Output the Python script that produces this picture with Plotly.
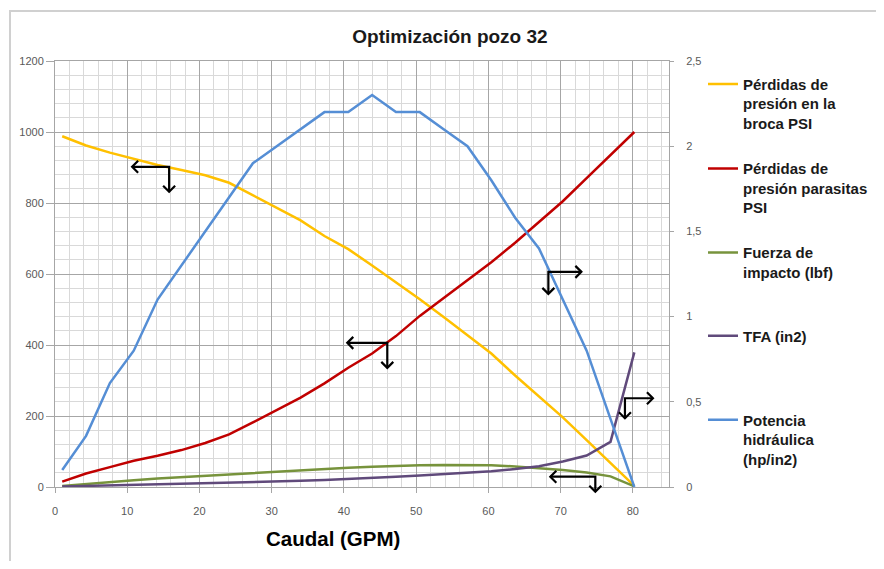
import plotly.graph_objects as go

# ---------------- data ----------------
caudal = [1.0, 4.3, 7.6, 10.9, 14.2, 17.5, 20.8, 24.1, 27.4, 30.7, 34.0, 37.3, 40.6,
          43.9, 47.2, 50.5, 53.8, 57.1, 60.4, 63.7, 67.0, 70.3, 73.6, 76.9, 80.2]

perdidas_broca = [988, 962, 942, 925, 907, 893, 878, 857, 821, 785, 751, 707, 670,
                  624, 577, 529, 479, 428, 376, 314, 255, 196, 132, 68, 3]

perdidas_parasitas = [15, 38, 56, 74, 88, 104, 124, 148, 182, 218, 252, 292, 336,
                      376, 425, 482, 533, 583, 633, 688, 746, 805, 870, 935, 1000]

fuerza_impacto = [3, 9, 14, 19, 24, 28, 32, 36, 40, 44, 47, 51, 54,
                  57, 60, 61, 62, 62, 61, 58, 54, 48, 41, 30, 2]

tfa = [0.003, 0.006, 0.009, 0.012, 0.015, 0.018, 0.021, 0.025, 0.029, 0.032, 0.036, 0.041, 0.046,
       0.053, 0.060, 0.067, 0.075, 0.083, 0.092, 0.105, 0.122, 0.150, 0.185, 0.265, 0.79]

potencia = [0.10, 0.30, 0.61, 0.80, 1.10, 1.30, 1.50, 1.70, 1.90, 2.00, 2.10, 2.20, 2.20,
            2.30, 2.20, 2.20, 2.10, 2.00, 1.80, 1.58, 1.40, 1.10, 0.80, 0.40, 0.0]

series_names = [
    "Pérdidas de<br>presión en la<br>broca PSI",
    "Pérdidas de<br>presión parasitas<br>PSI",
    "Fuerza de<br>impacto (lbf)",
    "TFA (in2)",
    "Potencia<br>hidráulica<br>(hp/in2)",
]

x_ticks = [0, 10, 20, 30, 40, 50, 60, 70, 80]
left_ticks = [0, 200, 400, 600, 800, 1000, 1200]
right_tickvals = [0, 0.5, 1, 1.5, 2, 2.5]
right_ticktext = ["0", "0,5", "1", "1,5", "2", "2,5"]

title_text = "Optimización pozo 32"
x_title = "Caudal (GPM)"

# ---------------- styling / layout ----------------
OFF = 8  # browser body margin
W, H = 884 - 2 * OFF, 569 - 2 * OFF
L, R, T, B = 55 - OFF, 669 - OFF, 61 - OFF, 487 - OFF
XMAX, YMAX, Y2MAX = 85, 1200, 2.5
SX = (R - L) / XMAX
SY = (B - T) / YMAX

colors = ["#FFC000", "#C00000", "#77933C", "#604A7B", "#558ED5"]
ys = [perdidas_broca, perdidas_parasitas, fuerza_impacto, tfa, potencia]
axes = ["y", "y", "y", "y2", "y2"]
legend_ids = ["legend", "legend2", "legend3", "legend4", "legend5"]
legend_line_y = [83.3, 167.7, 251.7, 335, 419]  # screen px of first legend line


def py_to_paper(py):
    return (B - py) / (B - T)


def px_to_paper_x(px):
    return (px - L) / (R - L)


fig = go.Figure()
for name, yv, c, ax, lg in zip(series_names, ys, colors, axes, legend_ids):
    fig.add_trace(go.Scatter(
        x=caudal, y=yv, name=name, mode="lines", yaxis=ax, legend=lg,
        line=dict(color=c, width=2.5), cliponaxis=False,
    ))

tick_font = dict(family="Liberation Sans, Arial", size=11, color="#595959")
legend_font = dict(family="Liberation Sans, Arial", size=15, color="#1a1a1a", weight="bold")

layout_legends = {}
for lg, ly in zip(legend_ids, legend_line_y):
    layout_legends[lg] = dict(
        x=px_to_paper_x(695), y=py_to_paper(ly - OFF - 15.5), xanchor="left", yanchor="top",
        valign="top", bgcolor="rgba(0,0,0,0)", font=legend_font,
    )

fig.update_layout(
    width=W, height=H,
    margin=dict(l=L, r=W - R, t=T, b=H - B, autoexpand=False),
    paper_bgcolor="white", plot_bgcolor="white",
    title=dict(text=f"<b>{title_text}</b>", x=(450 - OFF) / W, y=1 - (36 - OFF) / H,
               xanchor="center", yanchor="middle", xref="container", yref="container",
               font=dict(family="Liberation Sans, Arial", size=19, color="#1a1a1a")),
    xaxis=dict(range=[0, XMAX], tickvals=x_ticks, showgrid=True, gridcolor="#A6A6A6",
               gridwidth=1, minor=dict(dtick=2, tick0=0, showgrid=True, gridcolor="#D9D9D9", gridwidth=1),
               showline=True, linecolor="#A6A6A6", mirror=True, zeroline=False,
               ticks="outside", ticklen=5, tickcolor="#A6A6A6",
               ticklabelstandoff=9, tickfont=tick_font),
    yaxis=dict(range=[0, YMAX], tickvals=left_ticks, showgrid=True, gridcolor="#A6A6A6",
               gridwidth=1, minor=dict(dtick=40, tick0=0, showgrid=True, gridcolor="#D9D9D9", gridwidth=1),
               showline=True, linecolor="#A6A6A6", mirror=False, zeroline=False,
               ticks="outside", ticklen=8, tickcolor="#A6A6A6", tickfont=tick_font),
    yaxis2=dict(range=[0, Y2MAX], tickvals=right_tickvals, ticktext=right_ticktext,
                overlaying="y", side="right", showgrid=False, zeroline=False,
                showline=True, linecolor="#A6A6A6", ticks="outside", ticklen=4,
                tickcolor="#A6A6A6", ticklabelstandoff=10, tickfont=tick_font),
    showlegend=True,
    **layout_legends,
)

# x axis title
fig.add_annotation(text=f"<b>{x_title}</b>", xref="paper", yref="paper",
                   x=px_to_paper_x(333 - OFF), y=py_to_paper(538 - OFF), showarrow=False,
                   xanchor="center", yanchor="middle",
                   font=dict(family="Liberation Sans, Arial", size=20.5, color="#000000"))

# outer chart border
fig.add_shape(type="rect", xref="paper", yref="paper",
              x0=px_to_paper_x(10 - OFF), x1=px_to_paper_x(W + 30),
              y0=py_to_paper(H + 30), y1=py_to_paper(11 - OFF),
              line=dict(color="#D0D0D0", width=2), fillcolor="rgba(0,0,0,0)", layer="below")

# axis-indicator arrows: (corner x, corner y [left axis units], horizontal dir, horiz px, down px)
arrow_specs = [
    (15.8, 902, -1, 37, 25),
    (46.0, 406, -1, 40, 25),
    (68.3, 606, 1, 33, 22),
    (78.9, 250, 1, 28, 20),
    (74.8, 29, -1, 45, 15),
]


def to_px(xv, yv):
    return L + xv * SX, B - yv * SY


HEAD = 6
for cx, cy, d, hl, vl in arrow_specs:
    pcx, pcy = to_px(cx, cy)
    tipx = pcx + d * hl
    tipy = pcy + vl
    segs = [
        [(tipx, pcy), (pcx, pcy), (pcx, tipy)],
        [(tipx - d * HEAD, pcy - HEAD), (tipx, pcy), (tipx - d * HEAD, pcy + HEAD)],
        [(pcx - HEAD, tipy - HEAD), (pcx, tipy), (pcx + HEAD, tipy - HEAD)],
    ]
    for seg in segs:
        path = ""
        for i, (a, b) in enumerate(seg):
            u, v = px_to_paper_x(a), py_to_paper(b)
            path += ("M" if i == 0 else " L") + f"{u:.5f},{v:.5f}"
        fig.add_shape(type="path", path=path, xref="paper", yref="paper",
                      line=dict(color="#000000", width=2.2))

fig.write_html("out.html")
